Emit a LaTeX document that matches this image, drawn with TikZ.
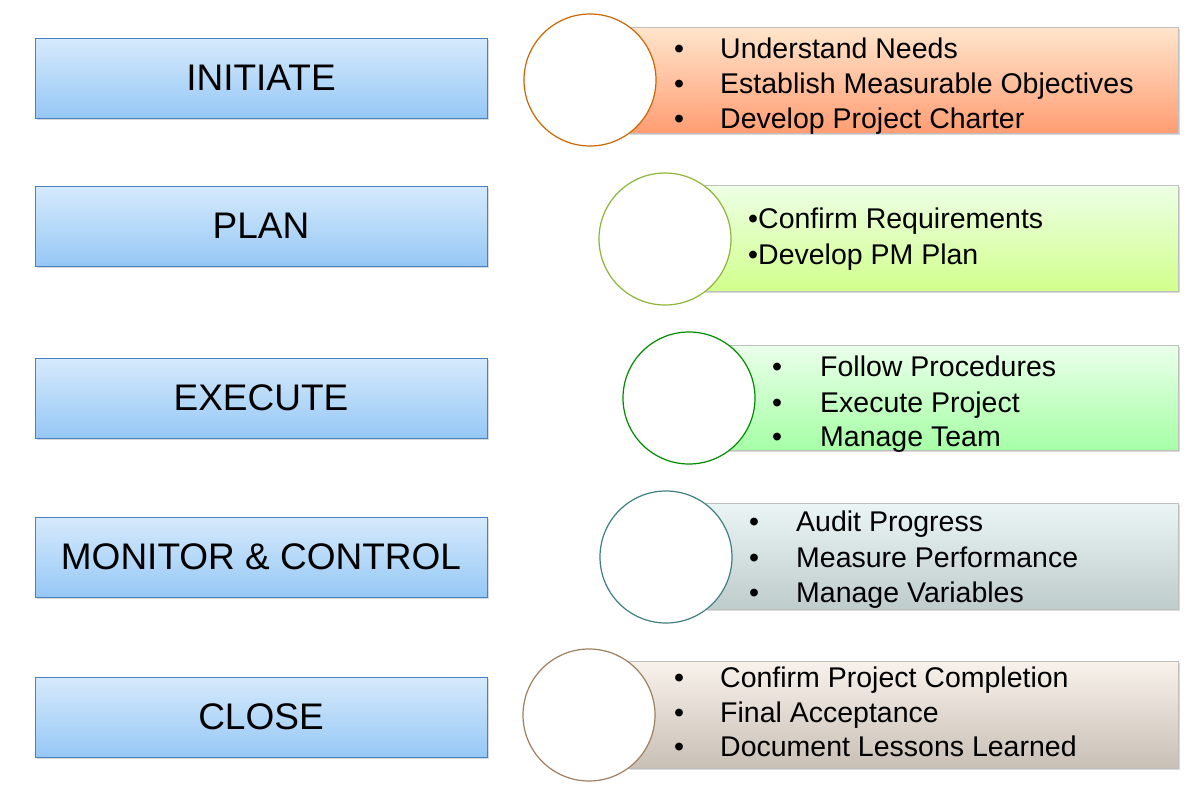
\documentclass[tikz,border=0pt]{standalone}
\usepackage{fontspec}
\setmainfont{Liberation Sans}
\usetikzlibrary{shadows}
\definecolor{bluetop}{RGB}{214,234,252}
\definecolor{bluebot}{RGB}{150,200,245}
\definecolor{blueline}{RGB}{70,130,190}
\tikzset{
 phase/.style={draw=blueline,line width=1pt,top color=bluetop,bottom color=bluebot,drop shadow={shadow xshift=2pt,shadow yshift=-2pt,opacity=0.3}},
 panel/.style={draw=black!25,line width=0.8pt,drop shadow={shadow xshift=2pt,shadow yshift=-2pt,opacity=0.3}},
 ring/.style={circle,fill=white,line width=1.2pt,minimum size=132pt,inner sep=0pt},
 ptext/.style={font=\fontsize{37}{40}\selectfont},
 btext/.style={font=\fontsize{28.5}{35}\selectfont,anchor=west,inner sep=0pt,text height=0.72em,text depth=0.2em,yshift=-6pt}
}
\begin{document}
\begin{tikzpicture}[x=1pt,y=-1pt]
\useasboundingbox (0,0) rectangle (1200,795);
\foreach \n/\t/\y in {a/INITIATE/78,b/PLAN/226,c/EXECUTE/398,d/MONITOR \& CONTROL/557,e/CLOSE/717}{
 \draw[phase] (35,\y-40) rectangle (487,\y+40);
 \node[ptext] (\n) at (261,\y) {\t};
}
\draw[panel,top color=orange!20,bottom color=orange!60!red!55] (628,27) rectangle (1178,133);
\node[ring,draw=orange!80!black] (c1) at (590,80) {};
\draw[panel,top color=yellow!30!green!10,bottom color=yellow!60!green!45] (700,185) rectangle (1178,291);
\node[ring,draw=yellow!60!green!80!black] (c2) at (665,239) {};
\draw[panel,top color=green!8,bottom color=green!35] (727,345) rectangle (1178,450);
\node[ring,draw=green!55!black] (c3) at (689,398) {};
\draw[panel,top color=teal!8,bottom color=teal!25!gray!40] (705,503) rectangle (1178,609);
\node[ring,draw=teal!50!gray] (c4) at (666,557) {};
\draw[panel,top color=brown!10!white,bottom color=brown!30!gray!50] (628,661) rectangle (1178,768);
\node[ring,draw=brown!50!gray] (c5) at (589,715) {};
\foreach \y/\t in {50/Understand Needs,85/Establish Measurable Objectives,120/Develop Project Charter}{
 \node[btext] at (674,\y) {•}; \node[btext] at (720,\y) {\t};}
\node[btext] at (748,220) {•Confirm Requirements};
\node[btext] at (748,256) {•Develop PM Plan};
\foreach \y/\t in {368/Follow Procedures,404/Execute Project,438/Manage Team}{
 \node[btext] at (772,\y) {•}; \node[btext] at (820,\y) {\t};}
\foreach \y/\t in {523/Audit Progress,559/Measure Performance,594/Manage Variables}{
 \node[btext] at (749,\y) {•}; \node[btext] at (796,\y) {\t};}
\foreach \y/\t in {679/Confirm Project Completion,714/Final Acceptance,748/Document Lessons Learned}{
 \node[btext] at (674,\y) {•}; \node[btext] at (720,\y) {\t};}
\end{tikzpicture}
\end{document}
